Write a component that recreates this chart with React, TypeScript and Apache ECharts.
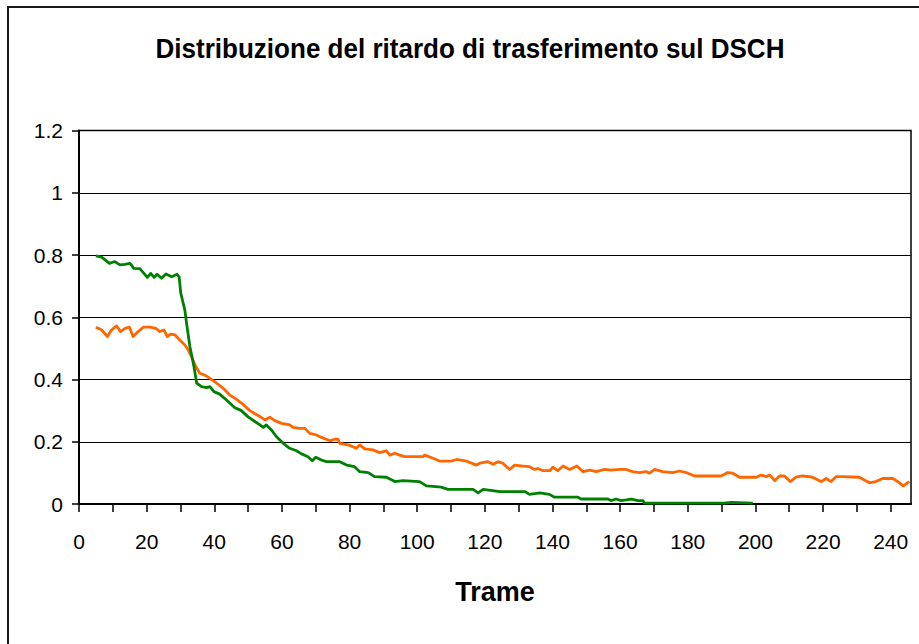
import React, { useEffect, useRef } from "react";
import * as echarts from "echarts";

const chartTitle = "Distribuzione del ritardo di trasferimento sul DSCH";
const xAxisName = "Trame";

const xLabelValues = [0, 20, 40, 60, 80, 100, 120, 140, 160, 180, 200, 220, 240];

const greenSeries: [number, number][] = [
  [5, 0.797], [6.7, 0.793], [9, 0.773], [10.6, 0.779], [12.1, 0.768], [13.6, 0.77], [15.1, 0.773], [16.2, 0.757],
  [18, 0.756], [19.2, 0.741], [20.2, 0.728], [21.2, 0.741], [22.2, 0.728], [23.1, 0.738], [24.4, 0.725], [25.7, 0.739],
  [27.4, 0.73], [29, 0.738], [29.6, 0.73], [30.1, 0.677], [31.3, 0.623], [31.8, 0.581], [32.8, 0.505], [34, 0.441],
  [34.8, 0.388], [36.2, 0.377], [37.7, 0.374], [38.7, 0.377], [39.9, 0.361], [41.6, 0.353], [43.6, 0.334], [46, 0.31],
  [48, 0.3], [50, 0.28], [52, 0.265], [53.5, 0.254], [54.5, 0.246], [55.4, 0.254], [56.9, 0.238], [58.4, 0.216],
  [60.4, 0.195], [62.3, 0.179], [64.3, 0.171], [65.8, 0.161], [67.7, 0.152], [69, 0.139], [70, 0.15], [71.7, 0.141],
  [73.2, 0.136], [77.1, 0.136], [79.1, 0.125], [81.5, 0.12], [83, 0.104], [85.5, 0.101], [87.4, 0.088], [90.9, 0.086],
  [93.4, 0.072], [95.8, 0.075], [100.7, 0.072], [102.7, 0.058], [105.6, 0.056], [107.1, 0.054], [109.1, 0.047],
  [116.5, 0.047], [118, 0.036], [119.5, 0.047], [124.4, 0.04], [131.8, 0.04], [133.2, 0.031], [136.2, 0.036],
  [139.1, 0.031], [140.6, 0.022], [147.5, 0.022], [148.5, 0.016], [156.4, 0.016], [157.3, 0.011], [158.8, 0.016],
  [160.3, 0.011], [161.8, 0.013], [163.3, 0.016], [165.3, 0.011], [166.7, 0.011], [167.2, 0.003], [190.8, 0.003],
  [192.8, 0.005], [199.2, 0.003],
];

const orangeSeries: [number, number][] = [
  [5, 0.568], [6.7, 0.559], [8.4, 0.538], [9.6, 0.559], [11.1, 0.572], [12.3, 0.554], [13.6, 0.564], [14.9, 0.568],
  [16, 0.538], [17.5, 0.554], [19, 0.568], [21, 0.568], [22.8, 0.564], [23.9, 0.554], [25.1, 0.559], [26.1, 0.538],
  [27.1, 0.546], [28.4, 0.543], [29.8, 0.527], [31.3, 0.511], [32.3, 0.495], [33.3, 0.473], [34.3, 0.447], [35.7, 0.42],
  [37.2, 0.414], [38.7, 0.404], [40.7, 0.388], [42.6, 0.372], [44.6, 0.35], [46.6, 0.336], [48.5, 0.32], [50.5, 0.3],
  [52, 0.29], [53.5, 0.281], [55, 0.27], [56.4, 0.279], [57.9, 0.268], [59.9, 0.259], [62.3, 0.254], [63.3, 0.246],
  [65.3, 0.243], [66.8, 0.243], [68.2, 0.227], [70.2, 0.222], [71.7, 0.214], [74.2, 0.203], [75.6, 0.208], [76.6, 0.208],
  [77.1, 0.195], [79.6, 0.19], [82, 0.179], [83, 0.19], [84.5, 0.177], [86.9, 0.174], [88.9, 0.165], [90.9, 0.171],
  [91.9, 0.157], [93.4, 0.163], [94.8, 0.157], [96.3, 0.152], [101.7, 0.152], [102.2, 0.157], [104.7, 0.147],
  [106.6, 0.138], [110.1, 0.138], [111.6, 0.143], [114.5, 0.138], [117.5, 0.125], [118.5, 0.131], [120.9, 0.136],
  [122.4, 0.128], [123.9, 0.136], [125.3, 0.131], [127.3, 0.111], [128.8, 0.125], [131.3, 0.122], [133.2, 0.12],
  [134.7, 0.111], [135.7, 0.114], [137.2, 0.107], [139.2, 0.107], [140.1, 0.118], [141.6, 0.107], [143.1, 0.122],
  [145.1, 0.111], [147.2, 0.122], [149, 0.104], [151, 0.109], [152.9, 0.104], [155.4, 0.111], [157.3, 0.109],
  [159.8, 0.111], [161.8, 0.111], [163.7, 0.104], [165.7, 0.101], [167.7, 0.104], [168.7, 0.099], [170.2, 0.111],
  [172.6, 0.104], [175.6, 0.101], [177.5, 0.106], [179.5, 0.101], [182, 0.09], [189.9, 0.09], [191.8, 0.101],
  [193.3, 0.099], [195.3, 0.086], [200.2, 0.086], [201.7, 0.093], [203.2, 0.088], [204.2, 0.093], [205.7, 0.075],
  [207.1, 0.09], [208.6, 0.09], [210.3, 0.072], [212, 0.086], [214, 0.09], [216.9, 0.086], [219.4, 0.072],
  [220.9, 0.082], [222.4, 0.072], [223.9, 0.088], [225.8, 0.088], [230.7, 0.086], [233.7, 0.068], [235.6, 0.072],
  [237.6, 0.082], [240.6, 0.082], [242.1, 0.072], [243.7, 0.058], [245.5, 0.072],
];

const FONT = "'Liberation Sans', Arial, Helvetica, sans-serif";

export default function App() {
  const ref = useRef<HTMLDivElement>(null);

  useEffect(() => {
    if (!ref.current) return;
    const chart = echarts.init(ref.current, null, { renderer: "svg" });
    chart.setOption({
      animation: false,
      backgroundColor: "#ffffff",
      graphic: [
        {
          type: "rect",
          silent: true,
          shape: { x: 8, y: 7, width: 1000, height: 1000 },
          style: { fill: "none", stroke: "#1a1a1a", lineWidth: 2 },
          z: 100,
        },
        {
          type: "text",
          x: 470,
          y: 49,
          scaleX: 0.93,
          style: {
            text: chartTitle,
            font: `bold 28px ${FONT}`,
            fill: "#000",
            align: "center",
            verticalAlign: "middle",
          },
        },
      ],
      grid: {
        left: 79,
        right: 8,
        top: 130.5,
        bottom: 140,
        show: true,
        borderColor: "#000",
        borderWidth: 1.5,
        backgroundColor: "transparent",
      },
      xAxis: {
        type: "value",
        min: 0,
        max: 246,
        interval: 10,
        name: xAxisName,
        nameLocation: "middle",
        nameGap: 74,
        nameTextStyle: { fontFamily: FONT, fontSize: 27, fontWeight: "bold", color: "#000" },
        axisLine: { show: true, onZero: false, lineStyle: { color: "#000", width: 2 } },
        axisTick: {
          show: true,
          inside: false,
          length: 8,
          lineStyle: { color: "#000", width: 1.5 },
        },
        axisLabel: {
          show: true,
          margin: 27,
          fontFamily: FONT,
          fontSize: 21,
          color: "#000",
          showMaxLabel: false,
          formatter: (v: number) => (xLabelValues.includes(v) ? String(v) : ""),
        },
        splitLine: { show: false },
      },
      yAxis: {
        type: "value",
        min: 0,
        max: 1.2,
        interval: 0.2,
        axisLine: { show: true, lineStyle: { color: "#000", width: 2 } },
        axisTick: { show: true, length: 7, lineStyle: { color: "#000", width: 1.5 } },
        axisLabel: {
          margin: 16,
          fontFamily: FONT,
          fontSize: 21,
          color: "#000",
        },
        splitLine: { show: true, lineStyle: { color: "#000", width: 1.2 } },
      },
      series: [
        {
          type: "line",
          data: orangeSeries,
          showSymbol: false,
          symbol: "none",
          lineStyle: { color: "#ff6600", width: 2.8, join: "round" },
          itemStyle: { color: "#ff6600" },
          z: 3,
        },
        {
          type: "line",
          data: greenSeries,
          showSymbol: false,
          symbol: "none",
          lineStyle: { color: "#008000", width: 2.8, join: "round" },
          itemStyle: { color: "#008000" },
          z: 4,
        },
      ],
    });
    return () => chart.dispose();
  }, []);

  return (
    <div
      ref={ref}
      style={{ position: "absolute", left: 0, top: 0, width: 919, height: 644, background: "#fff" }}
    />
  );
}
